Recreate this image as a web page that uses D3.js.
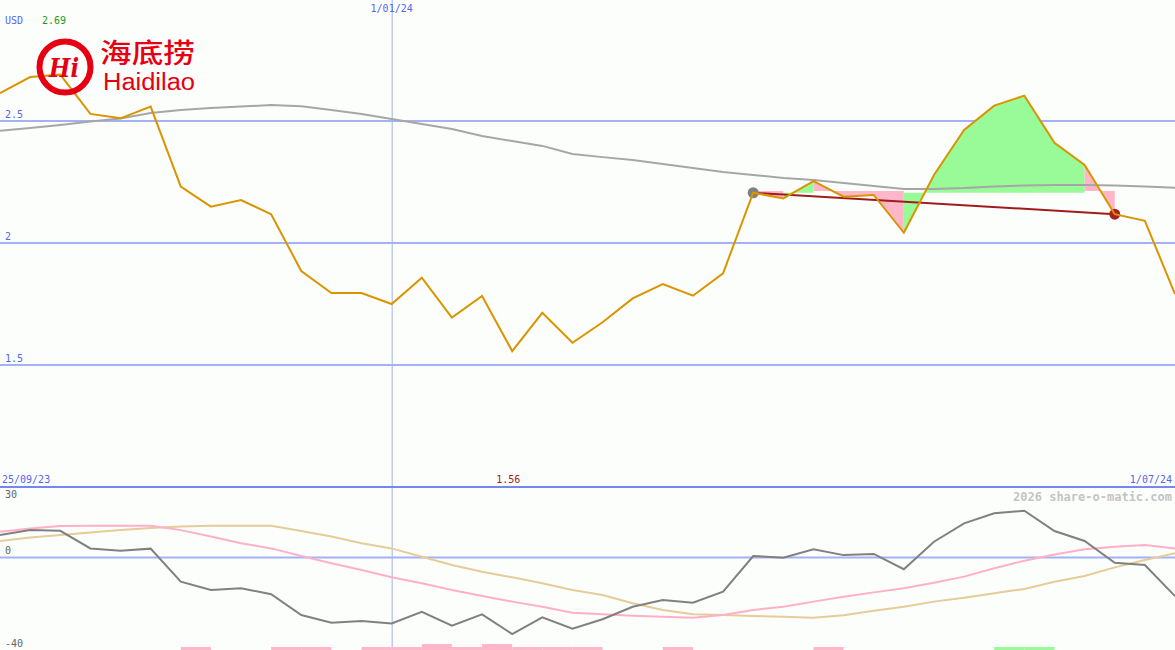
<!DOCTYPE html>
<html><head><meta charset="utf-8">
<script src="https://cdn.jsdelivr.net/npm/d3@7"></script>
<style>
html,body{margin:0;padding:0;background:#fcfefc;}
svg{display:block;}
</style></head>
<body>
<script>
// ---- data ----
const dateLabels = ["25/09/23", "1/01/24", "1/07/24"];
const dateIndex = [0, 13, 39];
const currency = "USD";
const priceTicks = [2.5, 2, 1.5];
const oscTicks = [30, 0, -40];

const price = [2.614, 2.68, 2.69, 2.529, 2.511, 2.559, 2.231, 2.149, 2.176, 2.118,
  1.885, 1.795, 1.795, 1.75, 1.858, 1.694, 1.783, 1.557, 1.714, 1.591,
  1.675, 1.773, 1.832, 1.784, 1.876, 2.206, 2.183, 2.254, 2.19, 2.197,
  2.042, 2.279, 2.463, 2.563, 2.604, 2.411, 2.32, 2.118, 2.091, 1.791];

const movingAvg = [2.46, 2.471, 2.484, 2.498, 2.51, 2.533, 2.545, 2.553, 2.559, 2.566,
  2.561, 2.545, 2.529, 2.508, 2.488, 2.467, 2.439, 2.418, 2.398, 2.365,
  2.352, 2.34, 2.324, 2.307, 2.291, 2.279, 2.266, 2.258, 2.246, 2.234,
  2.221, 2.221, 2.225, 2.232, 2.236, 2.238, 2.238, 2.236, 2.232, 2.227];

const momentum = [9.7, 11.8, 11.5, 3.9, 2.9, 3.8, -10.5, -14.1, -13.3, -15.9,
  -24.9, -28.2, -27.5, -28.5, -23.5, -29.5, -24.6, -33.1, -25.9, -30.8,
  -26.7, -21.3, -18.4, -19.6, -14.8, 0.6, -0.1, 3.5, 1.0, 1.5,
  -5.1, 6.8, 14.7, 19.1, 20.2, 11.4, 7.1, -2.3, -3.3, -16.7];

const fastAvg = [11.1, 12.5, 13.6, 13.7, 13.7, 13.7, 11.8, 9.0, 6.1, 3.9,
  0.6, -2.5, -5.4, -8.6, -11.2, -14.1, -16.7, -19.1, -21.3, -23.9,
  -24.6, -25.2, -25.6, -26.1, -24.9, -22.7, -21.3, -19.1, -17.0, -15.1,
  -13.3, -10.9, -8.3, -4.7, -1.4, 1.3, 3.5, 4.6, 5.4, 3.9];

const slowAvg = [7.1, 8.6, 9.7, 10.8, 11.8, 12.7, 13.4, 13.7, 13.7, 13.7,
  11.4, 9.0, 6.1, 3.9, 0.3, -3.3, -6.2, -8.6, -11.2, -14.1,
  -16.2, -19.8, -22.7, -24.5, -24.9, -25.3, -25.6, -26.1, -25.0, -23.0,
  -21.3, -19.1, -17.4, -15.5, -13.6, -10.5, -8.0, -4.3, -1.1, 1.8];

// weekly signal bars: index of week start, level (negative = pink, positive = green)
const signalWeek = [6, 9, 10, 12, 13, 14, 15, 16, 17, 18, 19, 22, 27, 33, 34];
const signalLevel = [-1, -1, -1, -1, -1, -2, -1, -2, -1, -1, -1, -1, -1, 1, 1];

// trend line endpoints (indices)
const trendStart = 25, trendEnd = 37;
// shaded swings
const swingStart = [25, 26, 27, 30, 36];
const swingEnd = [26, 27, 30, 36, 37];
const swingBase = [2.213, 2.206, 2.213, 2.206, 2.213];
const swingDir = ["down", "up", "down", "up", "down"];

const copyright = "2026 share-o-matic.com";

// ---- chart ----
const W = 1175, H = 650;
const MONO = "'DejaVu Sans Mono', monospace";
const svg = d3.select("body").append("svg").attr("width", W).attr("height", H);
svg.append("rect").attr("width", W).attr("height", H).attr("fill", "#fcfefc");

const x = d3.scaleLinear().domain([0, price.length - 1]).range([0, W]);
const y = d3.scaleLinear().domain([1.0, 2.996]).range([487, 0]);
const yo = d3.scaleLinear().domain([-40, 30]).range([650, 488]);
const barH = d3.scaleLinear().domain([0, 2]).range([0, 6]);

const gridCol = "#a3b1f5", labelCol = "#5566ee";

function label(px, py, txt, col, anchor) {
  return svg.append("text").attr("x", px).attr("y", py)
    .attr("text-anchor", anchor || "start")
    .style("font-family", MONO).style("font-size", "10px").attr("fill", col).text(txt);
}

// main gridlines
svg.selectAll(".hg").data(priceTicks).enter().append("line")
  .attr("x1", 0).attr("x2", W).attr("y1", d => y(d)).attr("y2", d => y(d))
  .attr("stroke", gridCol).attr("stroke-width", 2);
priceTicks.forEach(d => label(5, y(d) - 3, d3.format("")(d), labelCol));

// osc zero line
svg.append("line").attr("x1", 0).attr("x2", W).attr("y1", yo(0)).attr("y2", yo(0))
  .attr("stroke", gridCol).attr("stroke-width", 2);
oscTicks.forEach(d => label(5, d === 30 ? yo(d) + 10 : yo(d) - 3, d, "#666"));

// vertical date line
svg.append("line").attr("x1", x(dateIndex[1]) + 0.5).attr("x2", x(dateIndex[1]) + 0.5)
  .attr("y1", 0).attr("y2", H).attr("stroke", gridCol).attr("stroke-width", 1);

// axis separator
svg.append("line").attr("x1", 0).attr("x2", W).attr("y1", 487).attr("y2", 487)
  .attr("stroke", "#7586ee").attr("stroke-width", 2);

// date labels
label(2, 483, dateLabels[0], labelCol);
label(x(dateIndex[1]), 12, dateLabels[1], labelCol, "middle");
label(W - 3, 483, dateLabels[2], labelCol, "end");

// swing fills
swingStart.forEach((s, k) => {
  const idx = d3.range(s, swingEnd[k] + 1);
  const area = d3.area().x(i => x(i)).y0(y(swingBase[k])).y1(i => y(price[i]));
  svg.append("path").attr("d", area(idx))
    .attr("fill", swingDir[k] === "up" ? "#98fb98" : "#ffb6c8").attr("stroke", "none");
});

// moving average
const line = d3.line().x((d, i) => x(i)).y(d => y(d));
svg.append("path").attr("d", line(movingAvg)).attr("fill", "none")
  .attr("stroke", "#a6a6a6").attr("stroke-width", 2);

// trend line + markers
svg.append("line").attr("x1", x(trendStart)).attr("y1", y(price[trendStart]))
  .attr("x2", x(trendEnd)).attr("y2", y(price[trendEnd]))
  .attr("stroke", "#a01c1c").attr("stroke-width", 2);
svg.append("circle").attr("cx", x(trendStart)).attr("cy", y(price[trendStart])).attr("r", 5.5)
  .attr("fill", "#808080");
svg.append("circle").attr("cx", x(trendEnd)).attr("cy", y(price[trendEnd])).attr("r", 5.5)
  .attr("fill", "#a52222");

// price
svg.append("path").attr("d", line(price)).attr("fill", "none")
  .attr("stroke", "#d99400").attr("stroke-width", 2);

// labels: currency, max, min
const maxV = d3.max(price), minV = d3.min(price), minI = price.indexOf(minV);
label(5, 24, currency, labelCol);
label(42, 24, d3.format(".2f")(maxV), "#1a9a1a");
label(x(minI) - 4, 483, d3.format(".2f")(minV), "#a01c1c", "middle");

// oscillator lines
const oline = d3.line().x((d, i) => x(i)).y(d => yo(d));
svg.append("path").attr("d", oline(slowAvg)).attr("fill", "none").attr("stroke", "#e5cc98").attr("stroke-width", 2);
svg.append("path").attr("d", oline(fastAvg)).attr("fill", "none").attr("stroke", "#ffb0c8").attr("stroke-width", 2);
svg.append("path").attr("d", oline(momentum)).attr("fill", "none").attr("stroke", "#808080").attr("stroke-width", 2);

// signal bars
svg.selectAll(".sb").data(signalWeek).enter().append("rect")
  .attr("x", d => x(d)).attr("width", d => x(d + 1) - x(d))
  .attr("y", (d, k) => H - barH(Math.abs(signalLevel[k])))
  .attr("height", (d, k) => barH(Math.abs(signalLevel[k])))
  .attr("fill", (d, k) => signalLevel[k] > 0 ? "#98fb98" : "#ffb6c8");

// copyright
svg.append("text").attr("x", W - 3).attr("y", 501).attr("text-anchor", "end")
  .style("font-family", MONO).style("font-size", "12px").style("font-weight", "bold")
  .attr("fill", "#c4c4c4").text(copyright);

// logo
const logo = svg.append("g");
logo.append("circle").attr("cx", 65).attr("cy", 67).attr("r", 25.5)
  .attr("fill", "none").attr("stroke", "#e60012").attr("stroke-width", 6);
logo.append("text").attr("x", 64).attr("y", 77).attr("text-anchor", "middle")
  .style("font-family", "'DejaVu Serif', serif").style("font-style", "italic").style("font-weight", "bold")
  .style("font-size", "26px").attr("fill", "#e60012")
  .attr("textLength", 30).attr("lengthAdjust", "spacingAndGlyphs").text("Hi");
logo.append("text").attr("x", 100).attr("y", 63)
  .style("font-family", "'Noto Sans CJK SC', sans-serif").style("font-weight", "500")
  .style("font-size", "27px").attr("fill", "#e60012")
  .attr("textLength", 95).attr("lengthAdjust", "spacingAndGlyphs").text("海底捞");
logo.append("text").attr("x", 103).attr("y", 90)
  .style("font-family", "'Liberation Sans', Arial, sans-serif")
  .style("font-size", "23px").attr("fill", "#e60012")
  .attr("textLength", 92).attr("lengthAdjust", "spacingAndGlyphs").text("Haidilao");
</script>
</body></html>
